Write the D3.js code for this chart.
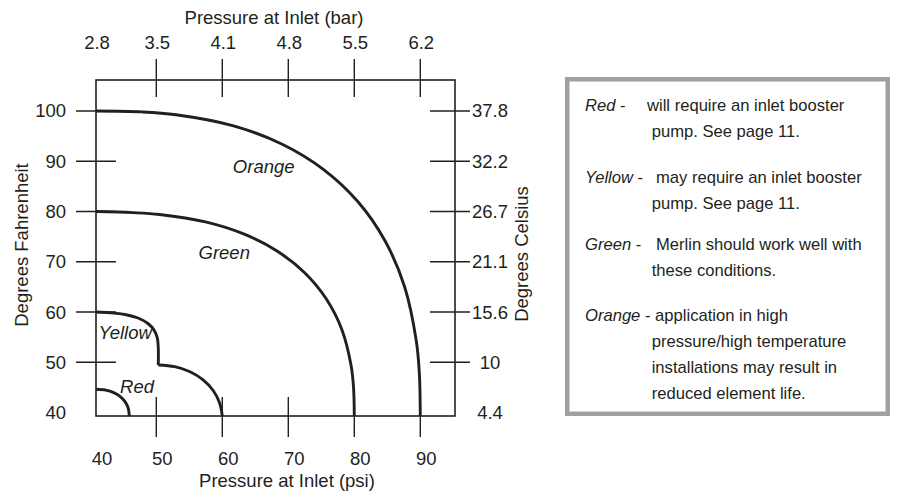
<!DOCTYPE html>
<html>
<head>
<meta charset="utf-8">
<script src="https://cdn.jsdelivr.net/npm/d3@7"></script>
<style>
  html, body { margin: 0; padding: 0; background: #fff; }
  svg { display: block; font-family: "Liberation Sans", Arial, Helvetica, sans-serif; }
</style>
</head>
<body>
<svg id="chart" width="905" height="493"></svg>
<script>
// ---------- data ----------
const psiTicks = [40, 50, 60, 70, 80, 90];
const barLabels = ["2.8", "3.5", "4.1", "4.8", "5.5", "6.2"];
const fTicks = [40, 50, 60, 70, 80, 90, 100];
const celsiusLabels = ["4.4", "10", "15.6", "21.1", "26.7", "32.2", "37.8"];

// zone boundaries [psi, degrees F]
const redCurve = [[40, 44.97], [41.62, 44.82], [42.94, 44.36], [44.03, 43.63], [44.84, 42.64], [45.35, 41.45], [45.52, 40]];
const yellowUpper = [[40, 60], [42.32, 59.85], [44.81, 59.51], [46.97, 58.81], [48.62, 57.72], [49.62, 56.43], [50.15, 54.84], [50.3, 52.85], [50.3, 49.5]];
const yellowLower = [[50.3, 49.5], [52.79, 49.18], [55.11, 48.23], [57.09, 46.72], [58.62, 44.75], [59.58, 42.46], [60, 40]];
const greenCurve = [[40, 80], [46.09, 79.78], [50.5, 79.41], [57.45, 77.93], [63.33, 75.49], [68.35, 72.1], [72.48, 67.81], [75.74, 62.63], [78.11, 56.53], [79.52, 49.37], [79.88, 45.4], [80, 40]];
const orangeCurve = [[40, 100], [47.63, 99.82], [52.97, 99.26], [61.7, 97.05], [69.08, 93.39], [75.36, 88.34], [80.56, 81.93], [84.65, 74.17], [87.62, 65.04], [89.39, 54.28], [89.85, 48.06], [90, 40]];

const zoneNames = ["Orange", "Green", "Yellow", "Red"];
const zoneLabelAnchors = [[61.6, 87.7], [56.4, 70.6], [40.4, 54.6], [44.0, 44.2]]; // [psi, F] where each name starts

const legendNames = ["Red", "Yellow", "Green", "Orange"];
const legendLines = [
  ["will require an inlet booster", "pump. See page 11."],
  ["may require an inlet booster", "pump. See page 11."],
  ["Merlin should work well with", "these conditions."],
  ["application in high", "pressure/high temperature", "installations may result in", "reduced element life."]
];

// ---------- layout ----------
const ink = "#231f20";
const svg = d3.select("#chart");
const frame = { left: 96, top: 80, right: 455, bottom: 416 };

const x = d3.scaleLinear().domain([40, 50, 90, 95.3]).range([96, 156.3, 420.3, 455]);
const y = d3.scaleLinear().domain([40, 50, 100, 106.2]).range([416, 362.3, 111, 80]);

svg.append("rect").attr("width", 905).attr("height", 493).attr("fill", "#fff");

// frame
svg.append("rect")
  .attr("x", frame.left).attr("y", frame.top)
  .attr("width", frame.right - frame.left).attr("height", frame.bottom - frame.top)
  .attr("fill", "none").attr("stroke", ink).attr("stroke-width", 1.6);

const tickG = svg.append("g").attr("stroke", ink).attr("stroke-width", 1.4);
// bottom & top ticks (skip the corner value)
psiTicks.slice(1).forEach(v => {
  tickG.append("line").attr("x1", x(v)).attr("x2", x(v)).attr("y1", frame.bottom - 19).attr("y2", frame.bottom + 21);
  tickG.append("line").attr("x1", x(v)).attr("x2", x(v)).attr("y1", frame.top - 21).attr("y2", frame.top + 17);
});
fTicks.slice(1).forEach(v => {
  tickG.append("line").attr("y1", y(v)).attr("y2", y(v)).attr("x1", frame.left - 20).attr("x2", frame.left + 20);
  tickG.append("line").attr("y1", y(v)).attr("y2", y(v)).attr("x1", frame.right - 25).attr("x2", frame.right + 15);
});

const axisFont = 18.5;
const txt = svg.append("g").attr("fill", ink).attr("font-size", axisFont);

// bottom labels
psiTicks.forEach(v => {
  txt.append("text").attr("x", x(v) + 6).attr("y", 465).attr("text-anchor", "middle").text(v);
});
// top labels
barLabels.forEach((lab, i) => {
  txt.append("text").attr("x", x(psiTicks[i]) + 1).attr("y", 49).attr("text-anchor", "middle").text(lab);
});
// left labels
fTicks.forEach(v => {
  txt.append("text").attr("x", 66).attr("y", y(v) + (v === 40 ? -3 : 0)).attr("dy", "0.35em")
    .attr("text-anchor", "end").text(v);
});
// right labels
celsiusLabels.forEach((lab, i) => {
  txt.append("text").attr("x", 490).attr("y", y(fTicks[i]) + (i === 0 ? -3 : 0)).attr("dy", "0.35em")
    .attr("text-anchor", "middle").text(lab);
});

// axis titles
txt.append("text").attr("x", 274).attr("y", 24).attr("text-anchor", "middle").text("Pressure at Inlet (bar)");
txt.append("text").attr("x", 287).attr("y", 487).attr("text-anchor", "middle").text("Pressure at Inlet (psi)");
txt.append("text").attr("transform", "translate(28,245) rotate(-90)").attr("text-anchor", "middle").text("Degrees Fahrenheit");
txt.append("text").attr("transform", "translate(528,254) rotate(-90)").attr("text-anchor", "middle").text("Degrees Celsius");

// zone boundary curves
const line = d3.line().x(d => x(d[0])).y(d => y(d[1])).curve(d3.curveCatmullRom.alpha(0.5));
[orangeCurve, greenCurve, yellowUpper, yellowLower, redCurve].forEach(c => {
  svg.append("path").attr("d", line(c)).attr("fill", "none").attr("stroke", ink)
    .attr("stroke-width", 2.9).attr("stroke-linejoin", "round").attr("stroke-linecap", "butt");
});

// zone names
zoneNames.forEach((n, i) => {
  txt.append("text").attr("x", x(zoneLabelAnchors[i][0])).attr("y", y(zoneLabelAnchors[i][1]))
    .attr("font-style", "italic").text(n);
});

// legend box
svg.append("rect").attr("x", 567.25).attr("y", 79.25).attr("width", 320.5).attr("height", 334.5)
  .attr("fill", "#fff").attr("stroke", "#a0a0a0").attr("stroke-width", 4.5);

const lg = svg.append("g").attr("fill", ink).attr("font-size", 16.6);
const firstBaselines = [111, 183, 250, 321];
const firstTextX = [647, 656, 656, null];
const lineGap = 26;
legendNames.forEach((n, i) => {
  const t = lg.append("text").attr("x", 585).attr("y", firstBaselines[i]);
  t.append("tspan").attr("font-style", "italic").text(n);
  if (firstTextX[i] === null) {
    t.append("tspan").text(" - " + legendLines[i][0]);
  } else {
    t.append("tspan").text(" -");
    lg.append("text").attr("x", firstTextX[i]).attr("y", firstBaselines[i]).text(legendLines[i][0]);
  }
  legendLines[i].slice(1).forEach((s, k) => {
    lg.append("text").attr("x", 651.7).attr("y", firstBaselines[i] + lineGap * (k + 1)).text(s);
  });
});
</script>
</body>
</html>
